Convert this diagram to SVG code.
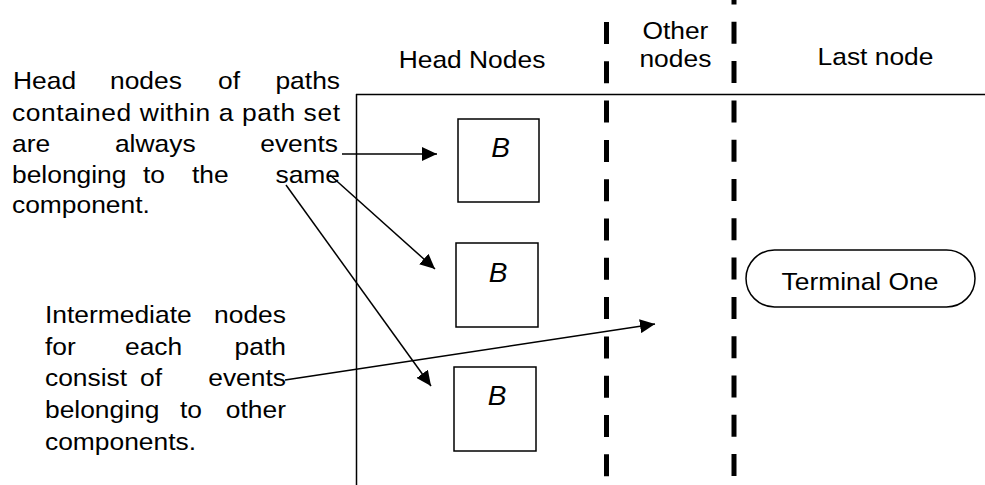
<svg xmlns="http://www.w3.org/2000/svg" width="985" height="485" viewBox="0 0 985 485">
  <style>
    .t { font-family: "Liberation Sans", Arial, sans-serif; font-size: 24px; fill: #000; }
    .m { text-anchor: middle; }
    .e { text-anchor: end; }
    .b { font-family: "Liberation Sans", Arial, sans-serif; font-size: 28px; font-style: italic; text-anchor: middle; fill: #000; }
    .frame { stroke: #000; stroke-width: 1.5; fill: none; }
    .box { stroke: #000; stroke-width: 1.5; fill: #fff; }
    .sep { stroke: #000; stroke-width: 5; stroke-dasharray: 22 17.3; fill: none; }
    .link { stroke: #000; stroke-width: 1.5; fill: none; marker-end: url(#head); }
  </style>
  <defs>
    <marker id="head" markerUnits="userSpaceOnUse" markerWidth="15" markerHeight="14" refX="15" refY="7" orient="auto">
      <path d="M0,0 L15,7 L0,14 z" fill="#000"/>
    </marker>
  </defs>

  <rect width="985" height="485" fill="#fff"/>

  <!-- table frame and column separators -->
  <g id="frame">
    <line class="frame" x1="356" y1="94.5" x2="985" y2="94.5"/>
    <line class="frame" x1="356.5" y1="94" x2="356.5" y2="485"/>
    <line class="sep" x1="606.5" y1="22" x2="606.5" y2="485"/>
    <line class="sep" x1="734" y1="-17.5" x2="734" y2="485"/>
  </g>

  <!-- column headings -->
  <g id="headings" transform="scale(1.1,1)">
    <text class="t m" x="429.1" y="68">Head Nodes</text>
    <text class="t m" x="614" y="39">Other</text>
    <text class="t m" x="614" y="67">nodes</text>
    <text class="t m" x="795.9" y="65">Last node</text>
  </g>

  <!-- justified note: head nodes -->
  <g id="note-head" transform="scale(1.1,1)">
    <text class="t" x="11.8" y="89">Head</text>
    <text class="t" x="100" y="89">nodes</text>
    <text class="t" x="198.2" y="89">of</text>
    <text class="t e" x="309.1" y="89">paths</text>
    <text class="t" x="10.9" y="121" textLength="298.2" lengthAdjust="spacing">contained within a path set</text>
    <text class="t" x="10.9" y="152">are</text>
    <text class="t" x="104.5" y="152">always</text>
    <text class="t e" x="307.3" y="152">events</text>
    <text class="t" x="10.9" y="183">belonging</text>
    <text class="t" x="130" y="183">to</text>
    <text class="t" x="174.5" y="183">the</text>
    <text class="t e" x="309.1" y="183">same</text>
    <text class="t" x="10.9" y="213">component.</text>
  </g>

  <!-- justified note: intermediate nodes -->
  <g id="note-intermediate" transform="scale(1.1,1)">
    <text class="t" x="40.9" y="323">Intermediate</text>
    <text class="t e" x="260" y="323">nodes</text>
    <text class="t" x="40.9" y="355">for</text>
    <text class="t" x="113.6" y="355">each</text>
    <text class="t e" x="260" y="355">path</text>
    <text class="t" x="40.9" y="386">consist</text>
    <text class="t" x="127.3" y="386">of</text>
    <text class="t e" x="260" y="386">events</text>
    <text class="t" x="40.9" y="418">belonging</text>
    <text class="t" x="163.6" y="418">to</text>
    <text class="t e" x="260" y="418">other</text>
    <text class="t" x="40.9" y="450">components.</text>
  </g>

  <!-- head node boxes -->
  <g id="node-b1">
    <rect class="box" x="458" y="119" width="81" height="83"/>
    <text class="b" x="500.7" y="157">B</text>
  </g>
  <g id="node-b2">
    <rect class="box" x="456" y="243" width="82" height="84"/>
    <text class="b" x="498" y="282">B</text>
  </g>
  <g id="node-b3">
    <rect class="box" x="454" y="367" width="82" height="84"/>
    <text class="b" x="497" y="405">B</text>
  </g>

  <!-- last node -->
  <g id="node-terminal">
    <rect class="box" x="746" y="250" width="229" height="57" rx="28.5" ry="28.5"/>
    <text class="t m" x="860" y="290" transform="translate(860,0) scale(1.1,1) translate(-860,0)">Terminal One</text>
  </g>

  <!-- pointer arrows -->
  <g id="connectors">
    <line class="link" x1="342" y1="154" x2="437" y2="154"/>
    <line class="link" x1="330" y1="175" x2="435" y2="269"/>
    <line class="link" x1="286" y1="185" x2="431" y2="386"/>
    <line class="link" x1="285" y1="380" x2="655" y2="324"/>
  </g>
</svg>
